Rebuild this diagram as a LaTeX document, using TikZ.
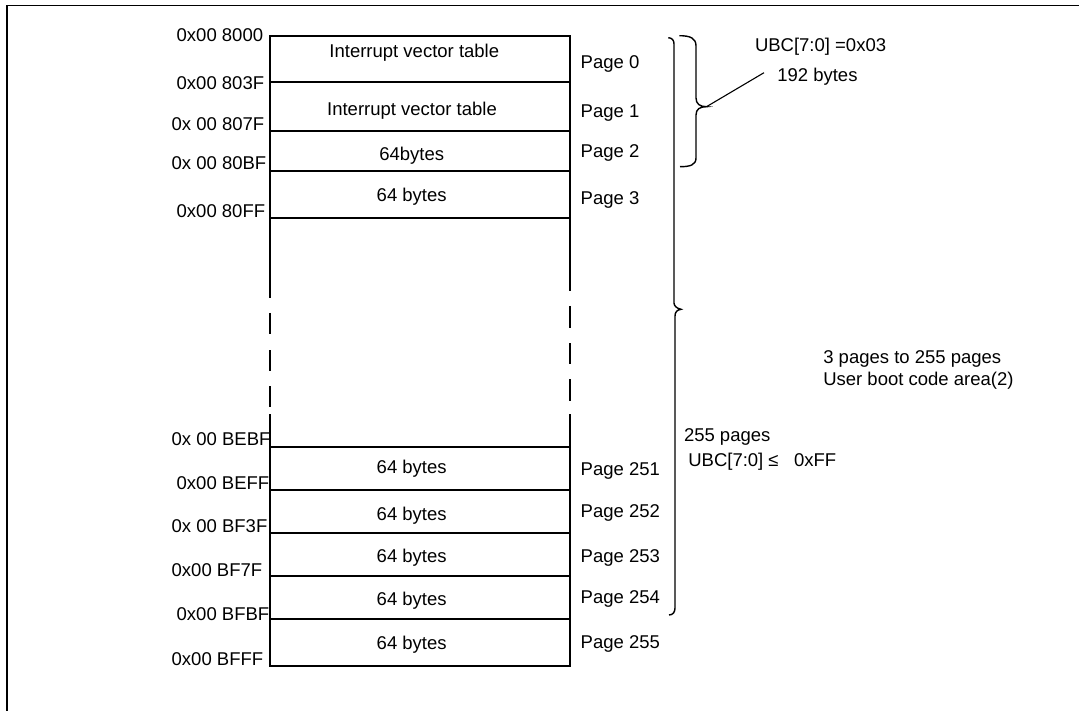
\documentclass[tikz,border=0pt]{standalone}
\usepackage{fontspec}
\setmainfont{Liberation Sans}
\begin{document}
\begin{tikzpicture}[x=1pt,y=-1pt,
  every node/.style={inner sep=0pt,outer sep=0pt,font=\fontsize{18.5}{22}\selectfont},
  boxline/.style={line width=2pt},
  brace/.style={line width=1.4pt},
  addr/.style={anchor=base west},
  cell/.style={anchor=base},
  pagelbl/.style={anchor=base west},
  note/.style={anchor=base west}]
\useasboundingbox (0,0) rectangle (1079,711);
% frame
\draw[line width=1.8pt] (7.3,711) |- (1079,5.5);
% upper block
\draw[boxline] (269.5,217.7) -- (269.5,35.7) -- (569.5,35.7) -- (569.5,217.7);
\draw[boxline] (269.5,81.7) -- (569.5,81.7);
\draw[boxline] (269.5,130.7) -- (569.5,130.7);
\draw[boxline] (269.5,171) -- (571,171);
\draw[boxline] (269.5,217.7) -- (569.5,217.7);
% sides with breaks
\draw[boxline] (269.5,217.7) -- (269.5,297.7);
\draw[boxline] (269.5,313) -- (269.5,334);
\draw[boxline] (269.5,350) -- (269.5,371);
\draw[boxline] (269.5,386) -- (269.5,407);
\draw[boxline] (269.5,414) -- (269.5,446.7);
\draw[boxline] (569.5,217.7) -- (569.5,290.7);
\draw[boxline] (569.5,306) -- (569.5,328);
\draw[boxline] (569.5,343) -- (569.5,364);
\draw[boxline] (569.5,379) -- (569.5,401);
\draw[boxline] (569.5,414) -- (569.5,446.7);
% lower block
\draw[boxline] (269.5,446.7) rectangle (569.5,665.7);
\draw[boxline] (269.5,490) -- (569.5,490);
\draw[boxline] (269.5,532.7) -- (569.5,532.7);
\draw[boxline] (269.5,575.7) -- (569.5,575.7);
\draw[boxline] (269.5,619) -- (569.5,619);
% addresses
\node[addr] (a0) at (176.7,41.7) {0x00 8000};
\node[addr] (a1) at (176.7,90) {0x00 803F};
\node[addr] (a2) at (171.7,130.7) {0x 00 807F};
\node[addr] (a3) at (171.7,170) {0x 00 80BF};
\node[addr] (a4) at (176.7,217.2) {0x00 80FF};
\node[addr] (a5) at (171.7,445.7) {0x 00 BEBF};
\node[addr] (a6) at (176.7,489) {0x00 BEFF};
\node[addr] (a7) at (171.7,532.3) {0x 00 BF3F};
\node[addr] (a8) at (171.7,576.7) {0x00 BF7F};
\node[addr] (a9) at (176.7,620) {0x00 BFBF};
\node[addr] (a10) at (171.7,665) {0x00 BFFF};
% cell texts
\node[cell] (c0) at (414.3,57.7) {Interrupt vector table};
\node[cell] (c1) at (412,116) {Interrupt vector table};
\node[cell] (c2) at (411.7,160.7) {64bytes};
\node[cell] (c3) at (411.7,201.7) {64 bytes};
\node[cell] (c251) at (411.7,473.3) {64 bytes};
\node[cell] (c252) at (411.7,520) {64 bytes};
\node[cell] (c253) at (411.7,562.3) {64 bytes};
\node[cell] (c254) at (411.7,605) {64 bytes};
\node[cell] (c255) at (411.7,649) {64 bytes};
% page labels
\node[pagelbl] (p0) at (580.7,68.3) {Page 0};
\node[pagelbl] (p1) at (580.7,117.3) {Page 1};
\node[pagelbl] (p2) at (580.7,157.3) {Page 2};
\node[pagelbl] (p3) at (580.7,204.3) {Page 3};
\node[pagelbl] (p251) at (580.7,475.7) {Page 251};
\node[pagelbl] (p252) at (580.7,517.3) {Page 252};
\node[pagelbl] (p253) at (580.7,562.3) {Page 253};
\node[pagelbl] (p254) at (580.7,603.3) {Page 254};
\node[pagelbl] (p255) at (580.7,648.3) {Page 255};
% big brace
\draw[brace] (668.3,37.7) .. controls (672,38) and (674,40) .. (674,44) -- (674,303)
  .. controls (674,306) and (677,308.5) .. (681,309.3)
  .. controls (677,310) and (675,312) .. (675,316) -- (675,608)
  .. controls (675,612) and (673,615) .. (669,615);
% small brace
\coordinate (stip) at (706.5,106.7);
\draw[brace] (679.3,35.7) .. controls (690,35.7) and (696,38) .. (696,46) -- (696,98)
  .. controls (696,104) and (700,106.7) .. (stip)
  .. controls (700,106.7) and (696,109) .. (696,115) -- (696,158)
  .. controls (696,165) and (690,166.7) .. (680,166.7);
% notes
\node[note] (ubc1) at (755,51.7) {UBC[7:0] =0x03};
\node[note] (ubc2) at (777.3,81.7) {192 bytes};
\coordinate (lend) at (764,72.7);
\draw[line width=1.1pt] (stip) -- (lend);
\node[note] (area1) at (823.3,363) {3 pages to 255 pages};
\node[note] (area2) at (823.3,385.3) {User boot code area(2)};
\node[note] (n255) at (684,441.7) {255 pages};
\node[note] (nubc) at (688.3,466.7) {UBC[7:0]~≤~~~0xFF};
\end{tikzpicture}
\end{document}
